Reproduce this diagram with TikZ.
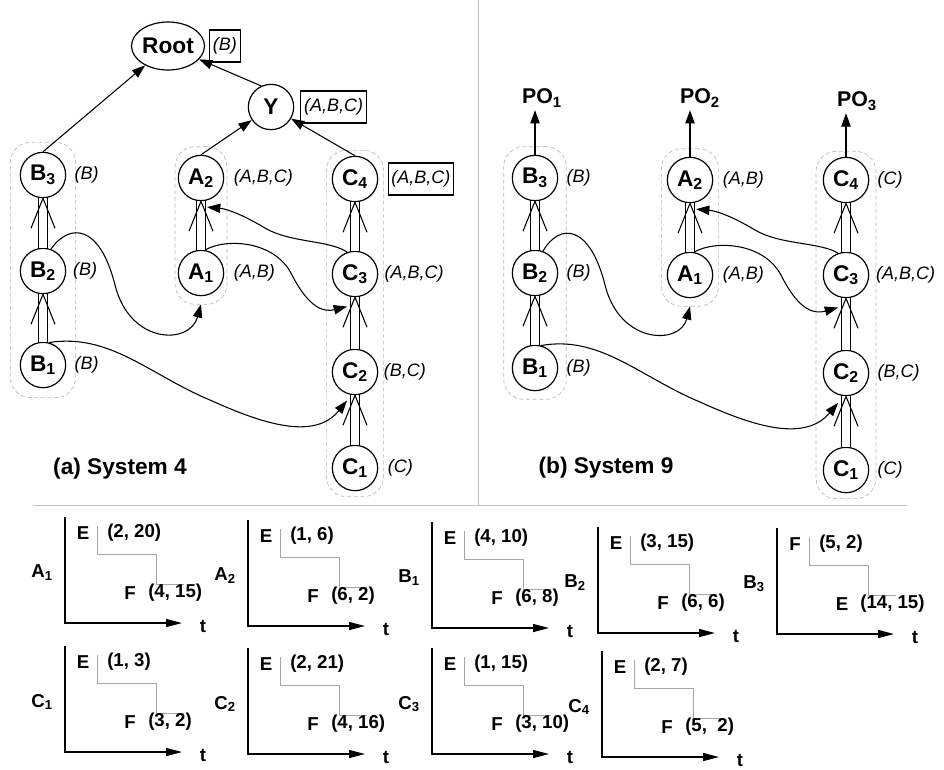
\documentclass[tikz,border=0pt]{standalone}
\usepackage{fontspec}
\setmainfont{Liberation Sans}
\usetikzlibrary{positioning,arrows.meta,fit,backgrounds,shapes.geometric}

% double connector with an open V head
\newcommand{\dblarrow}[2]{%
  \draw[dblline] (#1) -- (#2);
  \draw[vee] ([shift={(-12,30)}]#2.south) -- (#2.south) -- ([shift={(12,30)}]#2.south);}

% one small E/F chart
\newcommand{\chart}[7]{%
  \begin{scope}[shift={#2}]
    \coordinate (#1o) at (0,0);
    \coordinate (#1top) at (0,-106);
    \coordinate (#1end) at (117,0);
    \draw[axis] (#1top) -- (#1o) -- (#1end);
    \node[ctxt] (#1t) at (138,3) {t};
    \node[ctxt] (#1n) at (-23,-50) {#3};
    \node[ctxt] (#1a) at (18,-90) {#4};
    \node[ctxt, anchor=west] (#1av) at (42,-90) {#5};
    \draw[stepl] (32,-97) -- (32,-69) -- (91,-69) -- (91,-39) -- (119,-39);
    \node[ctxt] (#1b) at (65,-30) {#6};
    \node[ctxt, anchor=west] (#1bv) at (83,-30) {#7};
  \end{scope}}

\begin{document}
\begin{tikzpicture}[x=0.75pt, y=-0.75pt,
  st/.style={circle, draw, line width=0.9pt, minimum size=34pt, inner sep=0pt,
             font=\bfseries\fontsize{17}{19}\selectfont},
  lab/.style={inner sep=1pt, font=\itshape\fontsize{13.5}{15}\selectfont},
  tag/.style={lab, draw, line width=0.8pt, inner xsep=2.5pt, minimum height=24pt},
  grp/.style={draw=gray!55, densely dashed, line width=0.5pt, rounded corners=15pt},
  arr/.style={-{Triangle[length=10pt, width=7pt]}, line width=0.8pt},
  dblline/.style={double, double distance=6pt, line width=0.8pt},
  vee/.style={line width=0.8pt},
  sep/.style={draw=gray!50, line width=0.6pt},
  axis/.style={line width=1.1pt, -{Triangle[length=12pt, width=6pt]}},
  stepl/.style={gray!70, line width=0.5pt},
  ctxt/.style={inner sep=0pt, font=\bfseries\fontsize{14}{16}\selectfont},
  captxt/.style={font=\bfseries\fontsize{17}{19}\selectfont},
  po/.style={inner sep=2pt, font=\bfseries\fontsize{16}{18}\selectfont}
]
\useasboundingbox (0,0) rectangle (944,769);

% (a) System 4
\node[st, ellipse, minimum width=48pt, minimum height=36pt] (Root) at (168,46) {Root};
\node[tag, right=3pt of Root] (Rootl) {(B)};
\node[st] (Y) at (271,107) {Y};
\node[tag, right=4.5pt of Y] (Yl) {(A,B,C)};

\node[st] (B3) at (43,175) {B\textsubscript{3}};
\node[st] (B2) at (43,271) {B\textsubscript{2}};
\node[st] (B1) at (43,365) {B\textsubscript{1}};
\node[st] (A2) at (201,178) {A\textsubscript{2}};
\node[st] (A1) at (201,273) {A\textsubscript{1}};
\node[st] (C4) at (355,179) {C\textsubscript{4}};
\node[st] (C3) at (355,274) {C\textsubscript{3}};
\node[st] (C2) at (355,372) {C\textsubscript{2}};
\node[st] (C1) at (355,468) {C\textsubscript{1}};

\node[lab, right=5pt of B3] (B3l) {(B)};
\node[lab, right=4pt of B2] (B2l) {(B)};
\node[lab, right=5pt of B1] (B1l) {(B)};
\node[lab, right=6pt of A2] (A2l) {(A,B,C)};
\node[lab, right=6pt of A1] (A1l) {(A,B)};
\node[tag, right=7pt of C4] (C4l) {(A,B,C)};
\node[lab, right=3.5pt of C3] (C3l) {(A,B,C)};
\node[lab, right=3pt of C2] (C2l) {(B,C)};
\node[lab, right=6pt of C1] (C1l) {(C)};

\node[captxt] (capA) at (120,469) {(a) System 4};

\begin{scope}[on background layer]
  \node[grp, inner xsep=7pt, inner ysep=7pt, fit=(B1)(B3)] (gBa) {};
  \node[grp, inner xsep=2pt, inner ysep=6pt, fit=(A1)(A2)] (gAa) {};
  \node[grp, inner xsep=4pt, inner ysep=4pt, fit=(C1)(C4)] (gCa) {};
\end{scope}

\draw[arr] (B3.north) -- (Root);
\draw[arr] (Y.115) -- (Root);
\draw[arr] (A2.north) -- (Y);
\draw[arr] (C4.north) -- (Y);

\dblarrow{B1}{B2}
\dblarrow{B2}{B3}
\dblarrow{A1}{A2}
\dblarrow{C1}{C2}
\dblarrow{C2}{C3}
\dblarrow{C3}{C4}

\draw[arr] (B2.70) .. controls (70,222) and (100,225) .. (115,285)
  .. controls (130,345) and (190,345) .. ([yshift=-6pt]A1.south);
\draw[arr] (B1.75) .. controls (110,333) and (150,375) .. (210,400)
  .. controls (265,425) and (315,440) .. ([yshift=-5pt]C2.250);
\draw[arr] (A1.80) .. controls (225,238) and (275,240) .. (292,275)
  .. controls (310,310) and (325,312) .. ([yshift=-8pt]C3.250);
\draw[arr] (C3.110) .. controls (330,240) and (290,243) .. (265,228)
  .. controls (245,216) and (228,209) .. ([yshift=-5pt]A2.-75);

% (b) System 9
\node[st] (B3b) at (535,178) {B\textsubscript{3}};
\node[st] (B2b) at (535,273) {B\textsubscript{2}};
\node[st] (B1b) at (535,368) {B\textsubscript{1}};
\node[st] (A2b) at (690,180) {A\textsubscript{2}};
\node[st] (A1b) at (690,275) {A\textsubscript{1}};
\node[st] (C4b) at (846,180) {C\textsubscript{4}};
\node[st] (C3b) at (846,275) {C\textsubscript{3}};
\node[st] (C2b) at (846,373) {C\textsubscript{2}};
\node[st] (C1b) at (846,470) {C\textsubscript{1}};

\node[lab, right=5pt of B3b] (B3bl) {(B)};
\node[lab, right=5pt of B2b] (B2bl) {(B)};
\node[lab, right=5pt of B1b] (B1bl) {(B)};
\node[lab, right=6pt of A2b] (A2bl) {(A,B)};
\node[lab, right=6pt of A1b] (A1bl) {(A,B)};
\node[lab, right=5pt of C4b] (C4bl) {(C)};
\node[lab, right=4pt of C3b] (C3bl) {(A,B,C)};
\node[lab, right=5pt of C2b] (C2bl) {(B,C)};
\node[lab, right=5pt of C1b] (C1bl) {(C)};

\node[po] (PO1) at (542,98) {PO\textsubscript{1}};
\node[po] (PO2) at (700,98) {PO\textsubscript{2}};
\node[po] (PO3) at (857,101) {PO\textsubscript{3}};

\node[captxt] (capB) at (606,468) {(b) System 9};

\begin{scope}[on background layer]
  \node[grp, inner xsep=6pt, inner ysep=6pt, fit=(B1b)(B3b)] (gBb) {};
  \node[grp, inner xsep=4pt, inner ysep=6pt, fit=(A1b)(A2b)] (gAb) {};
  \node[grp, inner xsep=5pt, inner ysep=4pt, fit=(C1b)(C4b)] (gCb) {};
\end{scope}

\draw[arr] (B3b.north) -- (B3b.north |- PO1.south);
\draw[arr] (A2b.north) -- (A2b.north |- PO2.south);
\draw[arr] (C4b.north) -- (C4b.north |- PO3.south);

\dblarrow{B1b}{B2b}
\dblarrow{B2b}{B3b}
\dblarrow{A1b}{A2b}
\dblarrow{C1b}{C2b}
\dblarrow{C2b}{C3b}
\dblarrow{C3b}{C4b}

\draw[arr] (B2b.70) .. controls (560,222) and (590,225) .. (605,285)
  .. controls (620,345) and (680,345) .. ([yshift=-6pt]A1b.south);
\draw[arr] (B1b.75) .. controls (600,335) and (640,377) .. (700,402)
  .. controls (755,427) and (805,442) .. ([yshift=-6pt]C2b.250);
\draw[arr] (A1b.80) .. controls (715,240) and (765,242) .. (782,277)
  .. controls (800,312) and (815,314) .. ([yshift=-8pt]C3b.250);
\draw[arr] (C3b.110) .. controls (820,242) and (780,245) .. (755,230)
  .. controls (735,218) and (718,211) .. ([yshift=-5pt]A2b.-75);

% separators
\coordinate (sepT) at (478,0);
\coordinate (sepB) at (478,505);
\coordinate (sepL) at (33,505);
\coordinate (sepR) at (907,505);
\draw[sep] (sepT) -- (sepB);
\draw[sep] (sepL) -- (sepR);

% charts
\chart{ca1}{(65,623)}{A\textsubscript{1}}{E}{(2, 20)}{F}{(4, 15)}
\chart{ca2}{(248,626)}{A\textsubscript{2}}{E}{(1, 6)}{F}{(6, 2)}
\chart{cb1}{(432,628)}{B\textsubscript{1}}{E}{(4, 10)}{F}{(6, 8)}
\chart{cb2}{(598,633)}{B\textsubscript{2}}{E}{(3, 15)}{F}{(6, 6)}
\chart{cb3}{(777,634)}{B\textsubscript{3}}{F}{(5, 2)}{E}{(14, 15)}
\chart{cc1}{(65,752)}{C\textsubscript{1}}{E}{(1, 3)}{F}{(3, 2)}
\chart{cc2}{(248,754)}{C\textsubscript{2}}{E}{(2, 21)}{F}{(4, 16)}
\chart{cc3}{(432,754)}{C\textsubscript{3}}{E}{(1, 15)}{F}{(3, 10)}
\chart{cc4}{(602,757)}{C\textsubscript{4}}{E}{(2, 7)}{F}{(5,\ \ 2)}
\end{tikzpicture}
\end{document}
